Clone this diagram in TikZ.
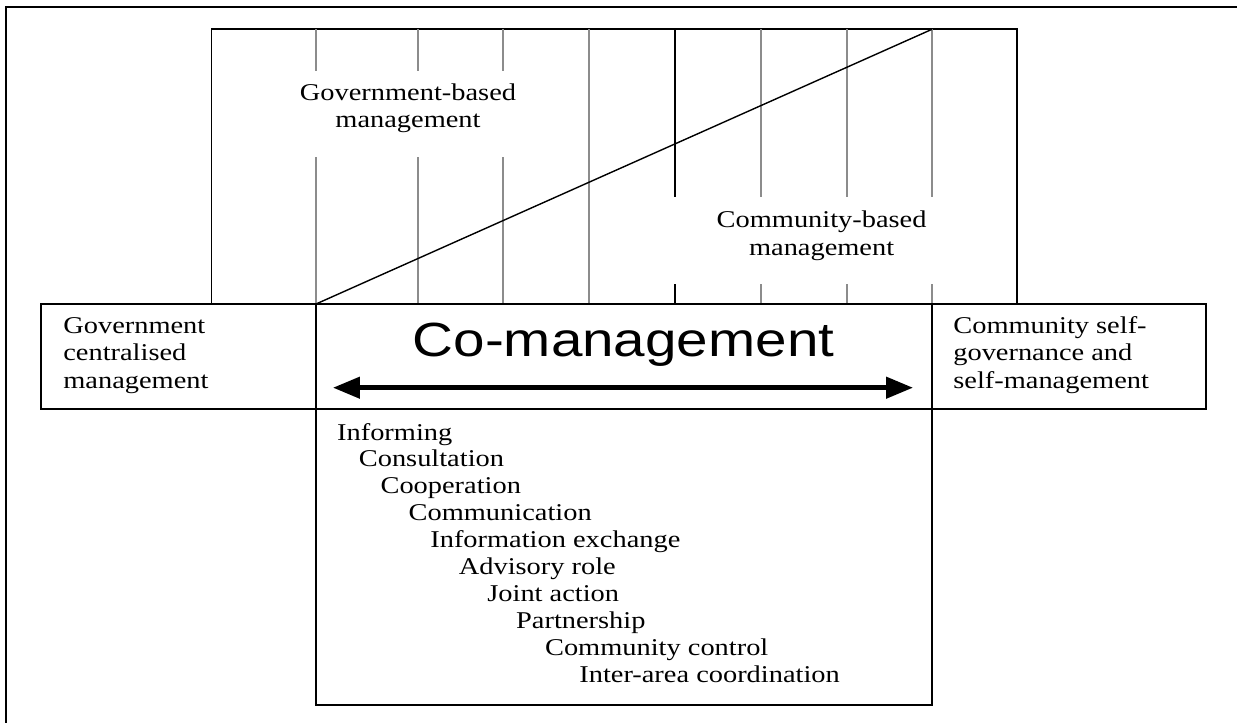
\documentclass[tikz,border=0pt]{standalone}
\usepackage{fontspec}
\setmainfont{Liberation Serif}[FakeStretch=1.18]
\newfontfamily\headfont{Liberation Sans}[FakeStretch=1.18]
\usetikzlibrary{arrows.meta}

\begin{document}
\begin{tikzpicture}[x=0.02cm,y=-0.02cm,>=Stealth,
  box/.style={line width=1.1pt},
  tick/.style={black!45,line width=1pt},
  label/.style={font=\fontsize{13.7}{15.6}\selectfont,inner sep=0pt}]
  \useasboundingbox (0,0) rectangle (1237,723);
  \clip (0,0) rectangle (1237,723);
  % Page frame
  \draw[box] (6.3,7.3) rectangle (1260,740);
  % Upper band
  \draw[box] (211.5,304) -- (211.5,29.3) -- (1017,29.3) -- (1017,304);
  % Division lines, broken where the labels sit
  \foreach \x in {316,417.8,503}
    \draw[tick] (\x,29.3) -- (\x,71) (\x,157) -- (\x,304);
  \draw[tick] (589,29.3) -- (589,304);
  \foreach \x in {761,847,932}
    \draw[tick] (\x,29.3) -- (\x,197) (\x,284) -- (\x,304);
  \draw[box] (675,29.3) -- (675,197) (675,284) -- (675,304);
  % Diagonal split
  \draw[line width=0.8pt] (316,304) -- (932,29.3);
  % Middle row
  \draw[box] (41,304) rectangle (316,409);
  \draw[box] (316,304) rectangle (932,409);
  \draw[box] (932,304) rectangle (1206,409);
  % Lower box
  \draw[box] (316,409) rectangle (932,705);

  % Labels of the upper band (base = last line)
  \node[label,anchor=base,align=center] (govbased) at (408,128)
    {Government-based\\management};
  \node[label,anchor=base,align=center] (combased) at (821.6,255)
    {Community-based\\management};
  % Middle row labels
  \node[label,anchor=base west,align=left] (govcentral) at (63,388)
    {Government\\centralised\\management};
  \node[label,anchor=base west,align=left] (comself) at (953,388)
    {Community self-\\governance and\\self-management};
  \node[inner sep=0pt,anchor=base,font=\headfont\fontsize{27.3}{30}\selectfont]
    (coman) at (623.5,356.7) {Co-management};
  % Double arrow
  \coordinate (west) at (333,387.7);
  \coordinate (east) at (913,387.7);
  \draw[{Triangle[length=0.54cm,width=0.42cm]}-{Triangle[length=0.54cm,width=0.42cm]},
    line width=2.6pt] (west) -- (east);

  % Levels of co-management
  \foreach \txt/\dx [count=\i from 0] in {Informing/336.8,Consultation/358.5,
      Cooperation/380.2,Communication/408.3,Information exchange/430,
      Advisory role/458.5,Joint action/487,Partnership/515.8,
      Community control/544.7,Inter-area coordination/579}
    \node[label,anchor=base west] (lvl\i) at (\dx,440+26.9*\i) {\txt};
\end{tikzpicture}
\end{document}
